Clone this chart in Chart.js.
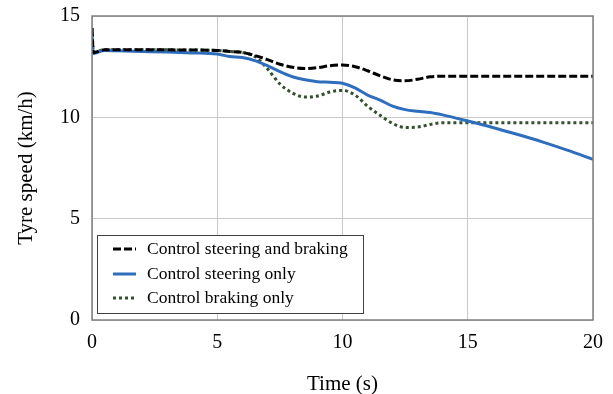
<!DOCTYPE html>
<html>
<head>
<meta charset="utf-8">
<script src="https://cdn.jsdelivr.net/npm/chart.js@4/dist/chart.umd.min.js"></script>
<style>
  html, body { margin: 0; padding: 0; background: #fff; }
  #wrap { width: 613px; height: 394px; }
</style>
</head>
<body>
<div id="wrap"><canvas id="myChart" width="613" height="394"></canvas></div>
<script>
const times = [0, 0.05, 0.5, 1, 2, 3, 4, 5, 5.5, 6, 6.5, 7, 7.5, 8, 8.5, 9, 9.5, 10, 10.5, 11, 11.5, 12, 12.5, 13, 13.5, 14, 15, 16, 17, 18, 19, 20];
const steerBrake = [14.4, 13.2, 13.33, 13.33, 13.33, 13.33, 13.32, 13.3, 13.25, 13.2, 13.05, 12.85, 12.62, 12.47, 12.41, 12.45, 12.55, 12.58, 12.5, 12.3, 12.05, 11.85, 11.8, 11.88, 12.0, 12.03, 12.03, 12.03, 12.03, 12.03, 12.03, 12.03];
const steerOnly = [14.2, 13.15, 13.3, 13.28, 13.25, 13.22, 13.18, 13.12, 13.0, 12.95, 12.8, 12.55, 12.25, 12.0, 11.85, 11.76, 11.73, 11.68, 11.45, 11.1, 10.85, 10.55, 10.38, 10.3, 10.24, 10.12, 9.82, 9.5, 9.15, 8.78, 8.37, 7.93];
const brakeOnly = [14.4, 13.2, 13.33, 13.33, 13.33, 13.33, 13.32, 13.3, 13.25, 13.2, 13.0, 12.4, 11.65, 11.2, 11.0, 11.05, 11.25, 11.33, 11.1, 10.55, 10.1, 9.7, 9.5, 9.52, 9.65, 9.73, 9.73, 9.73, 9.73, 9.73, 9.73, 9.73];
const seriesNames = ['Control steering and braking', 'Control steering only', 'Control braking only'];
const xTicks = [0, 5, 10, 15, 20];
const yTicks = [0, 5, 10, 15];

const serif = 'Liberation Serif, Times New Roman, serif';

function pts(vals) {
    return times.map((t, i) => ({ x: t, y: vals[i] }));
}

// frame round the plot area + legend box inside it
const framePlugin = {
    id: 'frame',
    afterDatasetsDraw(chart) {
        const { ctx, chartArea: a } = chart;
        ctx.save();
        ctx.strokeStyle = '#7f7f7f';
        ctx.lineWidth = 1.5;
        ctx.strokeRect(a.left, a.top, a.right - a.left, a.bottom - a.top);

        // legend
        const bx = 97.5, by = 235.5, bw = 266, bh = 78;
        ctx.fillStyle = '#fff';
        ctx.fillRect(bx, by, bw, bh);
        ctx.strokeStyle = '#404040';
        ctx.lineWidth = 1;
        ctx.strokeRect(bx, by, bw, bh);
        ctx.font = '17.5px ' + serif;
        ctx.textBaseline = 'middle';
        const rows = [249, 274, 298];
        chart.data.datasets.forEach((ds, i) => {
            const y = rows[i];
            ctx.beginPath();
            ctx.strokeStyle = ds.borderColor;
            ctx.lineWidth = ds.borderWidth;
            ctx.setLineDash(ds.borderDash || []);
            ctx.moveTo(113, y);
            ctx.lineTo(136, y);
            ctx.stroke();
            ctx.setLineDash([]);
            ctx.fillStyle = '#000';
            ctx.fillText(ds.label, 147, y);
        });
        ctx.restore();
    }
};

const ctx = document.getElementById('myChart').getContext('2d');

new Chart(ctx, {
    type: 'line',
    data: {
        datasets: [{
            label: seriesNames[0],
            data: pts(steerBrake),
            borderColor: '#000000',
            borderWidth: 3,
            borderDash: [8, 3]
        }, {
            label: seriesNames[1],
            data: pts(steerOnly),
            borderColor: '#2e6ebd',
            borderWidth: 3
        }, {
            label: seriesNames[2],
            data: pts(brakeOnly),
            borderColor: '#34502f',
            borderWidth: 3,
            borderDash: [3, 3]
        }]
    },
    options: {
        responsive: false,
        animation: false,
        layout: { padding: { top: 16, right: 20, left: 0, bottom: 0 } },
        elements: {
            point: { radius: 0 },
            line: { cubicInterpolationMode: 'monotone', fill: false }
        },
        plugins: {
            legend: { display: false },
            tooltip: { enabled: false }
        },
        scales: {
            x: {
                type: 'linear',
                min: 0,
                max: 20,
                afterBuildTicks: (s) => { s.ticks = xTicks.map(v => ({ value: v })); },
                afterFit: (s) => { s.height = 74; s.paddingRight = 0; },
                grid: { color: '#c8c8c8', lineWidth: 1, drawTicks: false },
                border: { display: false },
                ticks: { color: '#000', padding: 11, font: { family: serif, size: 20 } },
                title: {
                    display: true,
                    text: 'Time (s)',
                    color: '#000',
                    font: { family: serif, size: 21 },
                    padding: { top: 17, bottom: -3 }
                }
            },
            y: {
                min: 0,
                max: 15,
                afterBuildTicks: (s) => { s.ticks = yTicks.map(v => ({ value: v })); },
                afterFit: (s) => { s.width = 92; s.paddingTop = 0; s.paddingBottom = 0; },
                grid: { color: '#c8c8c8', lineWidth: 1, drawTicks: false },
                border: { display: false },
                ticks: { color: '#000', padding: 12, font: { family: serif, size: 20 } },
                title: {
                    display: true,
                    text: 'Tyre speed (km/h)',
                    color: '#000',
                    font: { family: serif, size: 21 },
                    padding: { top: 14, bottom: 4 }
                }
            }
        }
    },
    plugins: [framePlugin]
});
</script>
</body>
</html>
